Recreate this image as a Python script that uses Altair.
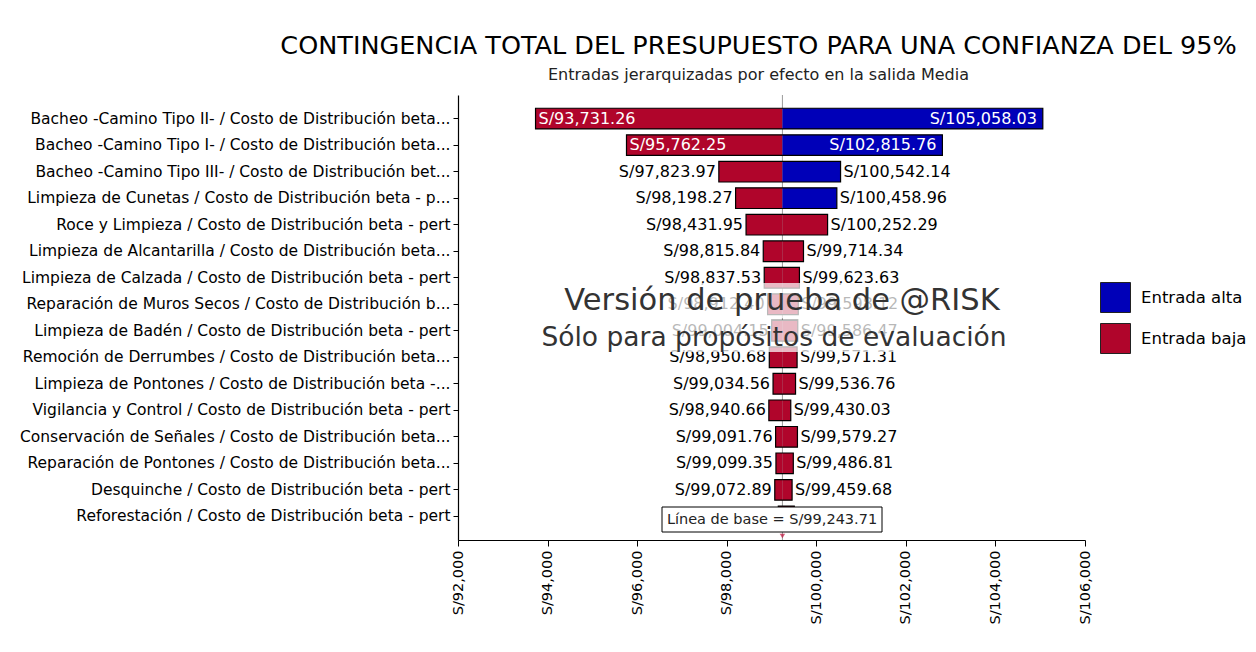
import altair as alt
import pandas as pd

categories = [
    "Bacheo -Camino Tipo II- / Costo de Distribución beta...",
    "Bacheo -Camino Tipo I- / Costo de Distribución beta...",
    "Bacheo -Camino Tipo III- / Costo de Distribución bet...",
    "Limpieza de Cunetas / Costo de Distribución beta - p...",
    "Roce y Limpieza / Costo de Distribución beta - pert",
    "Limpieza de Alcantarilla / Costo de Distribución beta...",
    "Limpieza de Calzada / Costo de Distribución beta - pert",
    "Reparación de Muros Secos / Costo de Distribución b...",
    "Limpieza de Badén / Costo de Distribución beta - pert",
    "Remoción de Derrumbes / Costo de Distribución beta...",
    "Limpieza de Pontones / Costo de Distribución beta -...",
    "Vigilancia y Control / Costo de Distribución beta - pert",
    "Conservación de Señales / Costo de Distribución beta...",
    "Reparación de Pontones / Costo de Distribución beta...",
    "Desquinche / Costo de Distribución beta - pert",
    "Reforestación / Costo de Distribución beta - pert",
]
low_values = [93731.26, 95762.25, 97823.97, 98198.27, 98431.95, 98815.84, 98837.53, 98912.40,
              99004.15, 98950.68, 99034.56, 98940.66, 99091.76, 99099.35, 99072.89, 99152.30]
high_values = [105058.03, 102815.76, 100542.14, 100458.96, 100252.29, 99714.34, 99623.63, 99598.12,
               99586.47, 99571.31, 99536.76, 99430.03, 99579.27, 99486.81, 99459.68, 99508.40]
low_side_input = ["Entrada baja"] * 16
high_side_input = ["Entrada alta"] * 4 + ["Entrada baja"] * 12
baseline = 99243.71
x_ticks = [92000, 94000, 96000, 98000, 100000, 102000, 104000, 106000]
legend_labels = ["Entrada alta", "Entrada baja"]

FONT = "DejaVu Sans"
RED = "#b0052b"
BLUE = "#0000b8"

bars = pd.DataFrame({"cat": categories, "low": low_values, "high": high_values,
                     "rank": list(range(1, 17))})
segs = pd.DataFrame({
    "cat": categories + categories,
    "start": low_values + [baseline] * 16,
    "end": [baseline] * 16 + high_values,
    "tipo": low_side_input + high_side_input,
})

W, H = 627, 445

yenc = alt.Y("cat:N", sort=categories,
             scale=alt.Scale(paddingInner=0.22, paddingOuter=0.5),
             axis=alt.Axis(title=None, labelLimit=0, labelFontSize=15.5, labelFont=FONT,
                           labelColor="black", tickColor="black", domainColor="black",
                           tickSize=5, labelPadding=3, domainWidth=1.2))
xscale = alt.Scale(domain=[92000, 106000], nice=False, zero=False)
xaxis = alt.Axis(title=None, values=x_ticks, labelAngle=270, labelFont=FONT, labelFontSize=14.5,
                 labelColor="black", tickColor="black", domainColor="black", tickSize=6,
                 labelPadding=4, grid=False, domainWidth=1.2,
                 labelExpr="'S/' + format(datum.value, ',')")

rule = alt.Chart(pd.DataFrame({"b": [baseline]})).mark_rule(color="#9a9a9a", strokeWidth=1).encode(
    x=alt.X("b:Q", scale=xscale, axis=xaxis))

seg_layer = alt.Chart(segs).mark_bar().encode(
    x=alt.X("start:Q", scale=xscale, axis=xaxis),
    x2="end:Q",
    y=yenc,
    color=alt.Color("tipo:N", scale=alt.Scale(domain=legend_labels, range=[BLUE, RED]),
                    legend=alt.Legend(title=None, orient="none", legendX=642, legendY=187,
                                      symbolType="square", symbolSize=900,
                                      symbolStrokeColor="#222", symbolStrokeWidth=1,
                                      labelFontSize=16.5, labelFont=FONT, labelColor="black",
                                      rowPadding=6, labelOffset=10)),
)

outline = alt.Chart(bars).mark_bar(fillOpacity=0, stroke="black", strokeWidth=1.2).encode(
    x=alt.X("low:Q", scale=xscale), x2="high:Q", y=alt.Y("cat:N", sort=categories))

base_lbl = alt.Chart(bars).transform_calculate(
    lowtxt="'S/' + format(datum.low, ',.2f')",
    hightxt="'S/' + format(datum.high, ',.2f')",
    inside="datum.high - datum.low > 5000",
)

LBL = 16
out_filter = "!datum.inside && datum.rank < 16"
low_out = base_lbl.transform_filter(out_filter).mark_text(
    align="right", dx=-3, fontSize=LBL, font=FONT, color="black").encode(
    x=alt.X("low:Q", scale=xscale), y=alt.Y("cat:N", sort=categories), text="lowtxt:N")
high_out = base_lbl.transform_filter(out_filter).mark_text(
    align="left", dx=3, fontSize=LBL, font=FONT, color="black").encode(
    x=alt.X("high:Q", scale=xscale), y=alt.Y("cat:N", sort=categories), text="hightxt:N")
low_in = base_lbl.transform_filter("datum.inside").mark_text(
    align="left", dx=3, fontSize=LBL, font=FONT, color="white").encode(
    x=alt.X("low:Q", scale=xscale), y=alt.Y("cat:N", sort=categories), text="lowtxt:N")
high_in = base_lbl.transform_filter("datum.inside").mark_text(
    align="right", dx=-6, fontSize=LBL, font=FONT, color="white").encode(
    x=alt.X("high:Q", scale=xscale), y=alt.Y("cat:N", sort=categories), text="hightxt:N")

wm_df = pd.DataFrame({"t": ["Versión de prueba de @RISK", "Sólo para propósitos de evaluación"]})
veil1 = alt.Chart(wm_df.iloc[:1]).mark_rect(color="white", opacity=0.72).encode(
    x=alt.value(100), x2=alt.value(548), y=alt.value(188), y2=alt.value(223))
veil2 = alt.Chart(wm_df.iloc[1:]).mark_rect(color="white", opacity=0.72).encode(
    x=alt.value(80), x2=alt.value(552), y=alt.value(225), y2=alt.value(257))
wm1 = alt.Chart(wm_df.iloc[:1]).mark_text(fontSize=30.5, font=FONT, color="#333333",
                                          baseline="middle").encode(
    x=alt.value(324), y=alt.value(206), text="t:N")
wm2 = alt.Chart(wm_df.iloc[1:]).mark_text(fontSize=26.5, font=FONT, color="#333333",
                                          baseline="middle").encode(
    x=alt.value(316), y=alt.value(243), text="t:N")

bl_df = pd.DataFrame({"b": [baseline], "t": ["Línea de base = S/" + format(baseline, ",.2f")]})
bl_box = alt.Chart(bl_df).mark_rect(fill="white", stroke="black", strokeWidth=1).encode(
    x=alt.value(204), x2=alt.value(424), y=alt.value(412), y2=alt.value(437))
bl_text = alt.Chart(bl_df).mark_text(fontSize=14.5, font=FONT, color="#222").encode(
    x=alt.value(314), y=alt.value(425), text="t:N")
bl_mark = alt.Chart(bl_df).mark_point(shape="triangle-down", filled=True, color="#c0103a",
                                      size=30).encode(
    x=alt.X("b:Q", scale=xscale), y=alt.value(H - 4))

chart = alt.layer(
    rule, seg_layer, outline, low_out, high_out, low_in, high_in,
    veil1, veil2, wm1, wm2, bl_box, bl_text, bl_mark,
).properties(
    width=W, height=H,
    title=alt.TitleParams(
        text="CONTINGENCIA TOTAL DEL PRESUPUESTO PARA UNA CONFIANZA DEL 95%",
        subtitle="Entradas jerarquizadas por efecto en la salida Media",
        fontSize=25.5, subtitleFontSize=16, font=FONT, subtitleFont=FONT,
        fontWeight="normal", color="black", subtitleColor="#222",
        anchor="middle", dx=-13, offset=12, subtitlePadding=7),
    autosize=alt.AutoSizeParams(type="none"),
    padding={"left": 450, "top": 87, "right": 163, "bottom": 98},
    background="white",
).configure_view(stroke=None)

chart.save("out.html", embed_options={"renderer": "svg", "actions": False})
